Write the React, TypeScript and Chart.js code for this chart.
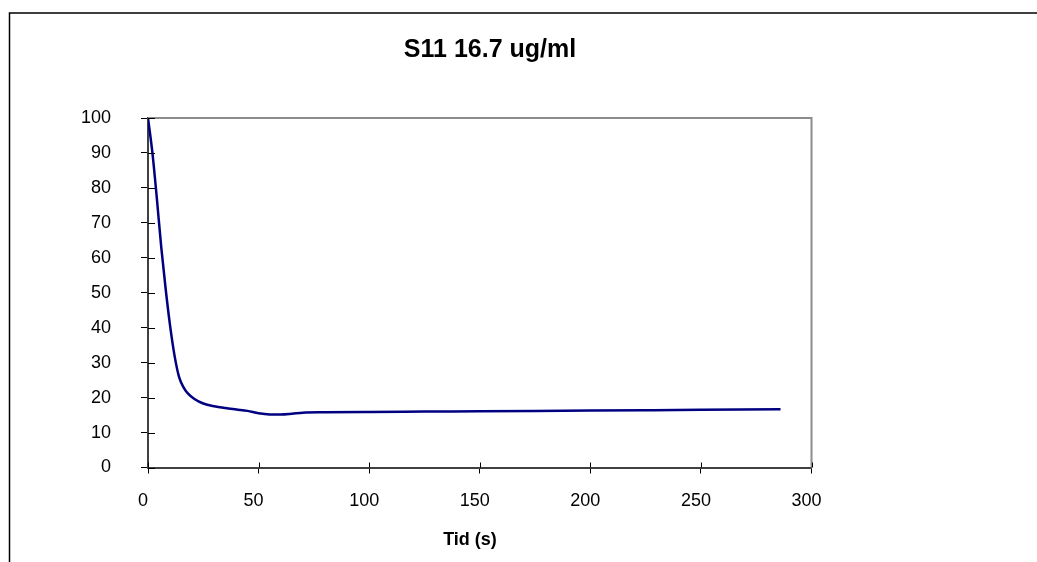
import React, { useEffect, useRef } from "react";
import { Chart, registerables } from "chart.js";

Chart.register(...registerables);

const chartTitle = "S11 16.7 ug/ml";
const xAxisTitle = "Tid (s)";
const timeSeconds = [0, 2, 4, 6, 8, 10, 12, 14, 16, 18, 21, 25, 30, 35, 40, 45, 50, 55, 60, 65, 70, 80, 100, 125, 150, 175, 200, 225, 250, 286];
const values = [100, 90, 77, 63, 51, 40.5, 32, 26, 23, 21.2, 19.6, 18.3, 17.5, 17, 16.6, 16.2, 15.5, 15.2, 15.2, 15.4, 15.7, 15.8, 15.9, 16.0, 16.1, 16.2, 16.3, 16.4, 16.5, 16.65];
const xTicks = [0, 50, 100, 150, 200, 250, 300];
const yTicks = [0, 10, 20, 30, 40, 50, 60, 70, 80, 90, 100];

const FONT = "'Liberation Sans', Arial, Helvetica, sans-serif";

const decorPlugin = {
  id: "decor",
  beforeDraw(chart: any) {
    const ctx = chart.ctx;
    ctx.save();
    ctx.fillStyle = "#ffffff";
    ctx.fillRect(0, 0, chart.width, chart.height);
    // outer frame
    ctx.strokeStyle = "#000000";
    ctx.lineWidth = 1.5;
    ctx.beginPath();
    ctx.moveTo(chart.width, 13);
    ctx.lineTo(9.5, 13);
    ctx.lineTo(9.5, chart.height);
    ctx.stroke();
    ctx.restore();
  },
  afterDraw(chart: any) {
    const ctx = chart.ctx;
    const a = chart.chartArea;
    const xs = chart.scales.x;
    const ys = chart.scales.y;
    ctx.save();
    // top & right plot border
    ctx.strokeStyle = "#8c8c8c";
    ctx.lineWidth = 2;
    ctx.beginPath();
    ctx.moveTo(a.left, a.top);
    ctx.lineTo(a.right, a.top);
    ctx.lineTo(a.right, a.bottom);
    ctx.stroke();
    // inner halves of ticks
    ctx.strokeStyle = "#000000";
    ctx.lineWidth = 1;
    ctx.beginPath();
    yTicks.forEach((v) => {
      const py = Math.round(ys.getPixelForValue(v)) + 0.5;
      ctx.moveTo(a.left, py);
      ctx.lineTo(a.left + 7, py);
    });
    xTicks.forEach((v) => {
      const px = Math.round(xs.getPixelForValue(v)) + 0.5;
      ctx.moveTo(px, a.bottom);
      ctx.lineTo(px, a.bottom - 5);
    });
    ctx.stroke();
    // titles
    ctx.fillStyle = "#000000";
    ctx.textAlign = "center";
    ctx.textBaseline = "alphabetic";
    ctx.font = `bold 25px ${FONT}`;
    ctx.fillText(chartTitle, 490, 57);
    ctx.font = `bold 18px ${FONT}`;
    ctx.fillText(xAxisTitle, 470, 545);
    ctx.restore();
  },
};

export default function App() {
  const ref = useRef<HTMLCanvasElement | null>(null);

  useEffect(() => {
    if (!ref.current) return;
    const chart = new Chart(ref.current, {
      type: "line",
      data: {
        datasets: [
          {
            data: timeSeconds.map((t, i) => ({ x: t, y: values[i] })),
            borderColor: "#000080",
            borderWidth: 2.5,
            pointRadius: 0,
            fill: false,
            cubicInterpolationMode: "monotone",
          },
        ],
      },
      options: {
        animation: false,
        responsive: false,
        maintainAspectRatio: false,
        layout: { padding: { top: 118, right: 225.5, bottom: 0, left: 0 } },
        plugins: {
          legend: { display: false },
          title: { display: false },
          tooltip: { enabled: false },
        },
        scales: {
          x: {
            type: "linear",
            min: 0,
            max: 300,
            afterFit: (s: any) => {
              s.height = 94.5;
            },
            afterBuildTicks: (s: any) => {
              s.ticks = xTicks.map((v) => ({ value: v }));
            },
            grid: { drawOnChartArea: false, drawTicks: true, tickLength: 6, color: "#000000", lineWidth: 1 },
            border: { display: true, color: "#404040", width: 2 },
            ticks: { color: "#000000", font: { family: FONT, size: 18 }, padding: 17, labelOffset: -5, maxRotation: 0, autoSkip: false },
          },
          y: {
            type: "linear",
            min: 0,
            max: 100,
            afterFit: (s: any) => {
              s.width = 148;
            },
            afterBuildTicks: (s: any) => {
              s.ticks = yTicks.map((v) => ({ value: v }));
            },
            grid: { drawOnChartArea: false, drawTicks: true, tickLength: 7, color: "#000000", lineWidth: 1 },
            border: { display: true, color: "#404040", width: 2 },
            ticks: { color: "#000000", font: { family: FONT, size: 18 }, padding: 30, autoSkip: false },
          },
        },
      },
      plugins: [decorPlugin],
    });
    return () => chart.destroy();
  }, []);

  return (
    <div style={{ position: "fixed", left: 0, top: 0, width: 1037, height: 562, background: "#fff" }}>
      <canvas ref={ref} width={1037} height={562} style={{ display: "block", width: 1037, height: 562 }} />
    </div>
  );
}
